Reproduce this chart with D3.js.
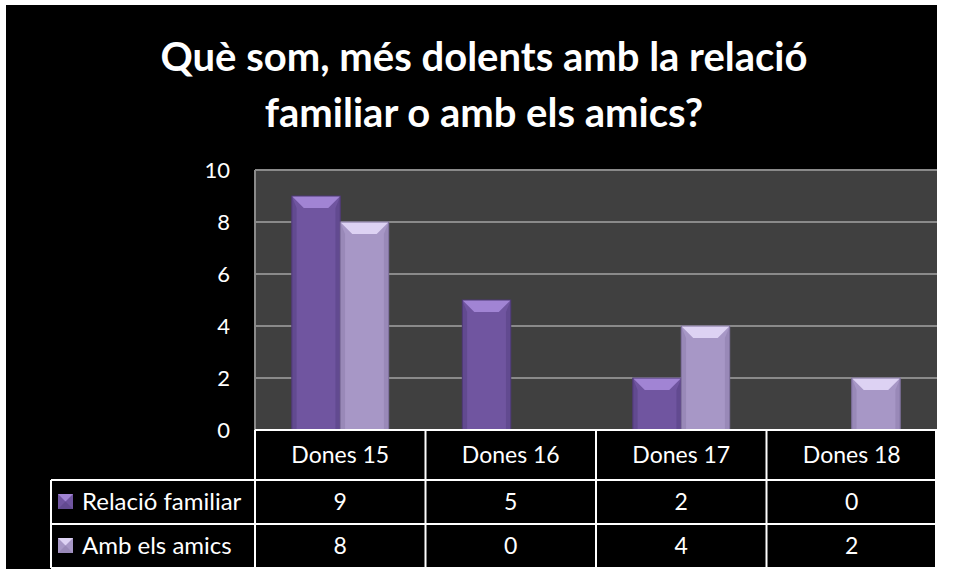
<!DOCTYPE html>
<html>
<head>
<meta charset="utf-8">
<script src="https://cdn.jsdelivr.net/npm/d3@7"></script>
<style>
body { margin: 0; background: #fff; }
svg { display: block; }
text { font-family: Lato, "Open Sans", sans-serif; fill: #fff; }
</style>
</head>
<body>
<svg width="956" height="577"></svg>
<script>
// data.........................................................................

var categories = ["Dones 15", "Dones 16", "Dones 17", "Dones 18"],
	seriesNames = ["Relació familiar", "Amb els amics"],
	familyValues = [9, 5, 2, 0],
	friendsValues = [8, 0, 4, 2],
	yTicks = [0, 2, 4, 6, 8, 10],
	titleLines = ["Què som, més dolents amb la relació", "familiar o amb els amics?"];

var series = [familyValues, friendsValues];

// colours per series: body, top bevel, side shade
var colors = [
	{body: "#7055a0", top: "#a184d4", side: "#624a90", edge: "#4d3873"},
	{body: "#a797c6", top: "#ddd2f3", side: "#9989b8", edge: "#7c6e9a"}
];

// layout.......................................................................

var svg = d3.select("svg"),
	frame = {x: 6, y: 5, w: 931, h: 564},
	plot = {left: 255, right: 937, top: 170, bottom: 430},
	table = {left: 51, headerBottom: 480, rowH: 44};

svg.append("rect")
	.attr("x", frame.x).attr("y", frame.y)
	.attr("width", frame.w).attr("height", frame.h)
	.attr("fill", "#000");

var x = d3.scaleBand()
	.domain(categories)
	.range([plot.left, plot.right])
	.paddingInner(0)
	.paddingOuter(0);

var xs = d3.scaleBand()
	.domain(d3.range(series.length))
	.range([0, x.bandwidth()])
	.paddingOuter(0.76)
	.paddingInner(0);

var y = d3.scaleLinear()
	.domain([0, 10])
	.range([plot.bottom, plot.top]);

// title
svg.append("g").selectAll("text")
	.data(titleLines)
	.enter().append("text")
		.attr("x", 484)
		.attr("y", function(d, i) { return 71 + i * 56; })
		.attr("text-anchor", "middle")
		.style("font-size", "40px")
		.style("font-weight", "bold")
		.text(function(d) { return d; });

// plot area
svg.append("rect")
	.attr("x", plot.left).attr("y", plot.top)
	.attr("width", plot.right - plot.left)
	.attr("height", plot.bottom - plot.top)
	.attr("fill", "#404040");

svg.append("g")
	.selectAll("line")
	.data(yTicks.filter(function(d) { return d > 0; }))
	.enter().append("line")
		.attr("x1", plot.left).attr("x2", plot.right)
		.attr("y1", function(d) { return y(d); })
		.attr("y2", function(d) { return y(d); })
		.attr("stroke", "#8a8a8a")
		.attr("stroke-width", 2);

svg.append("line")
	.attr("x1", plot.left).attr("x2", plot.left)
	.attr("y1", plot.top).attr("y2", plot.bottom)
	.attr("stroke", "#8a8a8a")
	.attr("stroke-width", 2);

// y axis labels
var yAxis = d3.axisLeft(y).tickValues(yTicks).tickSize(0).tickPadding(25);
var yG = svg.append("g")
	.attr("transform", "translate(" + plot.left + ",0)")
	.call(yAxis);
yG.select(".domain").remove();
yG.selectAll("text")
	.style("font-size", "22px")
	.style("font-family", "Lato, sans-serif")
	.attr("fill", "#fff");

// bars with a bevelled top
var bevel = 12;

function drawBar(g, x0, w, y0, c) {
	var h = plot.bottom - y0;
	if (h <= 0) return;
	var b = Math.min(bevel, h / 2);
	g.append("rect")
		.attr("x", x0).attr("y", y0)
		.attr("width", w).attr("height", h)
		.attr("fill", c.body);
	// left and right side shading
	g.append("path")
		.attr("d", "M" + x0 + "," + y0 + "L" + (x0 + b * 0.4) + "," + (y0 + b) +
			"L" + (x0 + b * 0.4) + "," + plot.bottom + "L" + x0 + "," + plot.bottom + "Z")
		.attr("fill", c.side);
	g.append("path")
		.attr("d", "M" + (x0 + w) + "," + y0 + "L" + (x0 + w - b * 0.4) + "," + (y0 + b) +
			"L" + (x0 + w - b * 0.4) + "," + plot.bottom + "L" + (x0 + w) + "," + plot.bottom + "Z")
		.attr("fill", c.side);
	// top bevel
	g.append("path")
		.attr("d", "M" + x0 + "," + y0 + "L" + (x0 + w) + "," + y0 +
			"L" + (x0 + w - b) + "," + (y0 + b) + "L" + (x0 + b) + "," + (y0 + b) + "Z")
		.attr("fill", c.top);
	g.append("rect")
		.attr("x", x0).attr("y", y0)
		.attr("width", w).attr("height", h)
		.attr("fill", "none")
		.attr("stroke", c.edge)
		.attr("stroke-width", 1);
}

var barsG = svg.append("g");
series.forEach(function(vals, s) {
	vals.forEach(function(v, i) {
		drawBar(barsG, x(categories[i]) + xs(s), xs.bandwidth(), y(v), colors[s]);
	});
});

// data table
var tg = svg.append("g");
var tableBottom = table.headerBottom + 2 * table.rowH,
	lineStyle = function(sel) { sel.attr("stroke", "#fff").attr("stroke-width", 2); };

// horizontal lines
tg.append("line").attr("x1", plot.left).attr("x2", plot.right)
	.attr("y1", plot.bottom).attr("y2", plot.bottom).call(lineStyle);
[table.headerBottom, table.headerBottom + table.rowH, tableBottom].forEach(function(yy) {
	tg.append("line").attr("x1", table.left).attr("x2", plot.right)
		.attr("y1", yy).attr("y2", yy).call(lineStyle);
});
// vertical lines
tg.append("line").attr("x1", table.left).attr("x2", table.left)
	.attr("y1", table.headerBottom).attr("y2", tableBottom).call(lineStyle);
categories.forEach(function(c) {
	tg.append("line").attr("x1", x(c)).attr("x2", x(c))
		.attr("y1", plot.bottom).attr("y2", tableBottom).call(lineStyle);
});
tg.append("line").attr("x1", plot.right - 1).attr("x2", plot.right - 1)
	.attr("y1", plot.bottom).attr("y2", tableBottom).call(lineStyle);

// header labels
tg.selectAll(".cat")
	.data(categories)
	.enter().append("text")
		.attr("class", "cat")
		.attr("x", function(d) { return x(d) + x.bandwidth() / 2; })
		.attr("y", (plot.bottom + table.headerBottom) / 2 + 8)
		.attr("text-anchor", "middle")
		.style("font-size", "23px")
		.text(function(d) { return d; });

// value rows
series.forEach(function(vals, s) {
	var cy = table.headerBottom + table.rowH * s + table.rowH / 2;
	tg.selectAll(".v" + s)
		.data(vals)
		.enter().append("text")
			.attr("x", function(d, i) { return x(categories[i]) + x.bandwidth() / 2; })
			.attr("y", cy + 8)
			.attr("text-anchor", "middle")
			.style("font-size", "23px")
			.text(function(d) { return d; });

	// legend key: bevelled square
	var kx = 58, ky = cy - 8, ks = 15, c = colors[s];
	tg.append("rect").attr("x", kx).attr("y", ky).attr("width", ks).attr("height", ks)
		.attr("fill", c.body);
	tg.append("path")
		.attr("d", "M" + kx + "," + ky + "L" + (kx + ks) + "," + ky + "L" + (kx + ks / 2) + "," + (ky + ks / 2) + "Z")
		.attr("fill", c.top);
	tg.append("path")
		.attr("d", "M" + kx + "," + (ky + ks) + "L" + (kx + ks) + "," + (ky + ks) + "L" + (kx + ks / 2) + "," + (ky + ks / 2) + "Z")
		.attr("fill", c.side);

	tg.append("text")
		.attr("x", 82)
		.attr("y", cy + 8)
		.style("font-size", "24px")
		.text(seriesNames[s]);
});
</script>
</body>
</html>
